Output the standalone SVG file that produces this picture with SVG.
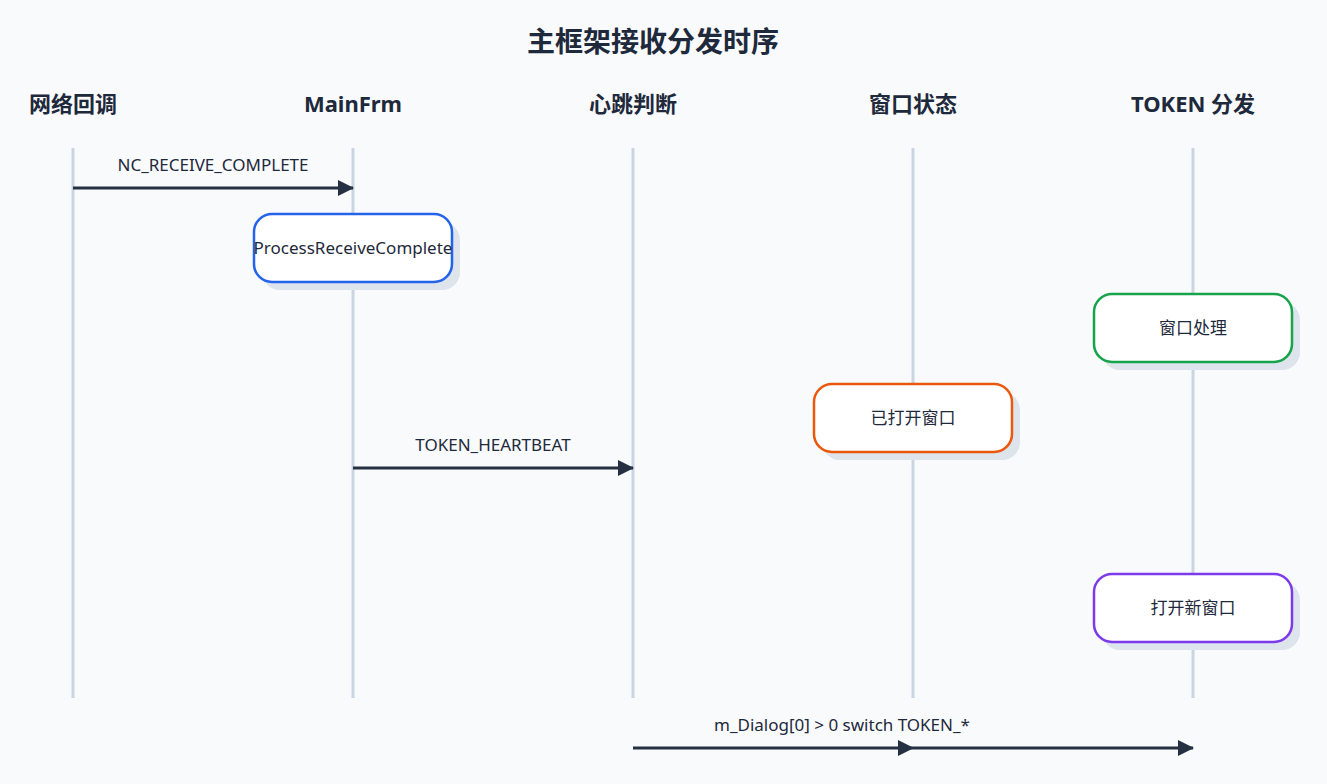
<svg xmlns="http://www.w3.org/2000/svg" width="1327" height="784" viewBox="0 0 1327 784">
<style>
text{font-family:"Noto Sans","Noto Sans CJK SC",sans-serif;fill:#1e293b}
.t{font-size:28px;font-weight:bold;text-anchor:middle}
.h{font-size:22px;font-weight:bold;text-anchor:middle}
.l{font-size:17px;text-anchor:middle}
.life{stroke:#cbd5e1;stroke-width:3}
.sh{fill:#dde4ec}
.box{fill:#fff;stroke-width:2.5}
.m{stroke:#253042;stroke-width:3;fill:none;marker-end:url(#a)}
</style>
<defs><marker id="a" markerWidth="16" markerHeight="16" refX="15" refY="8" orient="auto" markerUnits="userSpaceOnUse"><path d="M0,0L16,8L0,16z" fill="#253042"/></marker></defs>
<rect width="1327" height="784" fill="#f8fafc"/>
<text class="t" x="653" y="52">主框架接收分发时序</text>
<g id="headers">
<text class="h" x="73" y="112">网络回调</text>
<text class="h" x="353" y="112">MainFrm</text>
<text class="h" x="633" y="112">心跳判断</text>
<text class="h" x="913" y="112">窗口状态</text>
<text class="h" x="1193" y="112">TOKEN 分发</text>
</g>
<g id="lifelines">
<line class="life" x1="73" y1="148" x2="73" y2="698"/>
<line class="life" x1="353" y1="148" x2="353" y2="698"/>
<line class="life" x1="633" y1="148" x2="633" y2="698"/>
<line class="life" x1="913" y1="148" x2="913" y2="698"/>
<line class="life" x1="1193" y1="148" x2="1193" y2="698"/>
</g>
<g id="connectors">
<line class="m" x1="73" y1="188" x2="353" y2="188"/>
<text class="l" x="213" y="171">NC_RECEIVE_COMPLETE</text>
<line class="m" x1="353" y1="468" x2="633" y2="468"/>
<text class="l" x="493" y="451">TOKEN_HEARTBEAT</text>
<line class="m" x1="633" y1="748" x2="913" y2="748"/>
<line class="m" x1="913" y1="748" x2="1193" y2="748"/>
<text class="l" x="842" y="731">m_Dialog[0] &gt; 0 switch TOKEN_*</text>
</g>
<g id="n1"><rect class="sh" x="262" y="222" width="198" height="68" rx="18"/><rect class="box" stroke="#2563eb" x="254" y="214" width="198" height="68" rx="18"/><text class="l" x="353" y="254">ProcessReceiveComplete</text></g>
<g id="n2"><rect class="sh" x="1102" y="302" width="198" height="68" rx="18"/><rect class="box" stroke="#16a34a" x="1094" y="294" width="198" height="68" rx="18"/><text class="l" x="1193" y="334">窗口处理</text></g>
<g id="n3"><rect class="sh" x="822" y="392" width="198" height="68" rx="18"/><rect class="box" stroke="#ea580c" x="814" y="384" width="198" height="68" rx="18"/><text class="l" x="913" y="424">已打开窗口</text></g>
<g id="n4"><rect class="sh" x="1102" y="582" width="198" height="68" rx="18"/><rect class="box" stroke="#7c3aed" x="1094" y="574" width="198" height="68" rx="18"/><text class="l" x="1193" y="614">打开新窗口</text></g>
</svg>
